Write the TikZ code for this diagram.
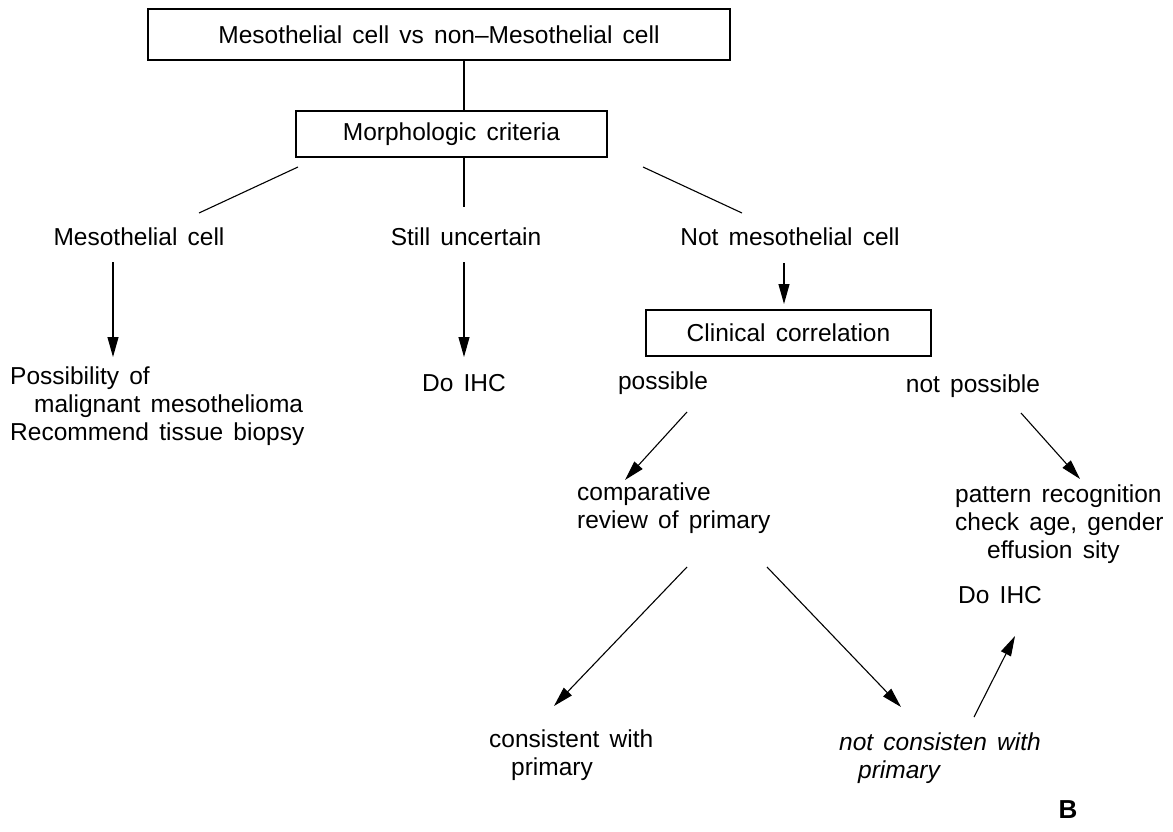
\documentclass[tikz,border=0pt]{standalone}
\usepackage{fontspec}
\setmainfont{Liberation Sans}[WordSpace=1.5]
\usetikzlibrary{arrows.meta,calc}
\begin{document}
\begin{tikzpicture}[x=1pt,y=-1pt,
  every node/.style={font=\fontsize{24.5}{28}\selectfont, inner sep=0pt},
  box/.style={draw, line width=1.2pt},
  ln/.style={line width=1.1pt},
  arr/.style={ln, -{Triangle[length=20pt,width=11pt]}}]
\useasboundingbox (0,0) rectangle (1173,832);
\fill[white] (0,0) rectangle (1173,832);
% boxes
\node[box, minimum width=582pt, minimum height=51pt] (top) at (439,34.5) {Mesothelial cell vs non--Mesothelial cell};
\node[box, minimum width=311pt, minimum height=46pt] (morph) at (451.5,134) {Morphologic criteria};
\node[box, minimum width=285pt, minimum height=46pt] (clin) at (788.5,333) {Clinical correlation};
% labels
\node (mcell) at (139,237) {Mesothelial cell};
\node (still) at (466,237) {Still uncertain};
\node (notm) at (790,237) {Not mesothelial cell};
\node[anchor=west, align=left] (poss) at (10,406) {Possibility of\\\hspace*{24pt}malignant mesothelioma\\Recommend tissue biopsy};
\node (doihc1) at (464,383) {Do IHC};
\node (possible) at (663,383) {possible};
\node (notposs) at (973,386) {not possible};
\node[anchor=west, align=left] (comp) at (577,508) {comparative\\review of primary};
\node[anchor=west, align=left] (patt) at (955,524) {pattern recognition\\check age, gender\\\hspace*{32pt}effusion sity};
\node[anchor=west] (doihc2) at (958,595) {Do IHC};
\node[anchor=west, align=left] (cons) at (489,755) {consistent with\\\hspace*{22pt}primary};
\node[anchor=west, align=left, font=\fontsize{24.5}{28}\selectfont\itshape] (ncons) at (839,758) {not consisten with\\\hspace*{19pt}primary};
\node[font=\fontsize{26}{30}\selectfont\bfseries] (B) at (1068,810) {B};
% free ends
\coordinate (s1) at (464,207);
\coordinate (d1) at (298,167); \coordinate (d2) at (199,213);
\coordinate (e1) at (643,167); \coordinate (e2) at (742,213);
\coordinate (a1) at (113,262); \coordinate (a1e) at (113,357);
\coordinate (a2) at (464,262); \coordinate (a2e) at (464,357);
\coordinate (a3) at (784,263); \coordinate (a3e) at (784,304);
\coordinate (p1) at (687,412); \coordinate (p1e) at (625,480);
\coordinate (q1) at (1021,413); \coordinate (q1e) at (1080,479);
\coordinate (c1) at (687,567); \coordinate (c1e) at (554,706);
\coordinate (c2) at (767,567); \coordinate (c2e) at (901,707);
\coordinate (u1) at (974,717); \coordinate (u1e) at (1015,636);
% connectors
\draw[ln] (top.south -| s1) -- (morph.north -| s1);
\draw[ln] (morph.south -| s1) -- (s1);
\draw[ln] (d1) -- (d2);
\draw[ln] (e1) -- (e2);
\draw[arr] (a1) -- (a1e);
\draw[arr] (a2) -- (a2e);
\draw[arr] (a3) -- (a3e);
\draw[arr] (p1) -- (p1e);
\draw[arr] (q1) -- (q1e);
\draw[arr] (c1) -- (c1e);
\draw[arr] (c2) -- (c2e);
\draw[arr] (u1) -- (u1e);
\end{tikzpicture}
\end{document}
